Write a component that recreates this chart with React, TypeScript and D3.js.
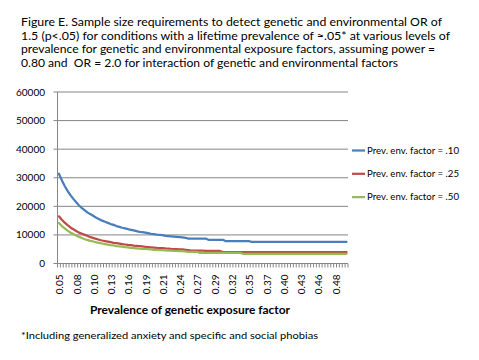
import React from "react";
import * as d3 from "d3";

const categories: number[] = [
  0.05, 0.0545, 0.059, 0.0635, 0.068, 0.0725, 0.077, 0.0815, 0.086, 0.0905,
  0.095, 0.0995, 0.104, 0.1085, 0.113, 0.1175, 0.122, 0.1265, 0.131, 0.1355,
  0.14, 0.1445, 0.149, 0.1535, 0.158, 0.1625, 0.167, 0.1715, 0.176, 0.1805,
  0.185, 0.1895, 0.194, 0.1985, 0.203, 0.2075, 0.212, 0.2165, 0.221, 0.2255,
  0.23, 0.2345, 0.239, 0.2435, 0.248, 0.2525, 0.257, 0.2615, 0.266, 0.2705,
  0.275, 0.2795, 0.284, 0.2885, 0.293, 0.2975, 0.302, 0.3065, 0.311, 0.3155,
  0.32, 0.3245, 0.329, 0.3335, 0.338, 0.3425, 0.347, 0.3515, 0.356, 0.3605,
  0.365, 0.3695, 0.374, 0.3785, 0.383, 0.3875, 0.392, 0.3965, 0.401, 0.4055,
  0.41, 0.4145, 0.419, 0.4235, 0.428, 0.4325, 0.437, 0.4415, 0.446, 0.4505,
  0.455, 0.4595, 0.464, 0.4685, 0.473, 0.4775, 0.482, 0.4865, 0.491, 0.4955,
  0.5,
];

const tickLabels: string[] = [
  "0.05", "0.08", "0.10", "0.13", "0.16", "0.19", "0.21", "0.24", "0.27",
  "0.29", "0.32", "0.35", "0.37", "0.40", "0.43", "0.46", "0.48",
];
const tickEvery = 6;

const yTicks: number[] = [0, 10000, 20000, 30000, 40000, 50000, 60000];

const env10: number[] = [
  31400, 29100, 27100, 25400, 23900, 22600, 21400, 20300, 19400, 18600,
  17800, 17200, 16600, 16000, 15500, 15000, 14600, 14200, 13800, 13500,
  13100, 12800, 12500, 12300, 12000, 11800, 11600, 11300, 11100, 11000,
  10800, 10600, 10400, 10300, 10100, 10000, 9900, 9700, 9600, 9500,
  9400, 9300, 9200, 9100, 9000, 8700, 8700, 8700, 8700, 8700,
  8700, 8700, 8300, 8300, 8300, 8300, 8300, 8300, 7800, 7800,
  7800, 7800, 7800, 7800, 7800, 7800, 7800, 7600, 7600, 7600,
  7600, 7600, 7600, 7600, 7600, 7600, 7600, 7600, 7600, 7600,
  7600, 7600, 7600, 7600, 7600, 7600, 7600, 7600, 7600, 7600,
  7600, 7600, 7600, 7600, 7600, 7600, 7600, 7600, 7600, 7600,
  7600,
];

const env25: number[] = [
  16500, 15300, 14300, 13400, 12600, 12000, 11400, 10800, 10400, 10000,
  9600, 9200, 8900, 8600, 8300, 8050, 7850, 7650, 7450, 7250,
  7100, 6950, 6800, 6650, 6500, 6400, 6250, 6150, 6050, 5950,
  5850, 5750, 5650, 5550, 5450, 5400, 5350, 5250, 5200, 5100,
  5050, 5000, 4950, 4900, 4800, 4700, 4500, 4500, 4500, 4500,
  4500, 4400, 4400, 4400, 4400, 4400, 4400, 4000, 4000, 4000,
  4000, 4000, 4000, 4000, 4000, 4000, 4000, 4000, 4000, 4000,
  4000, 4000, 4000, 4000, 4000, 4000, 4000, 4000, 4000, 4000,
  4000, 4000, 4000, 4000, 4000, 4000, 4000, 4000, 4000, 4000,
  4000, 4000, 4000, 4000, 4000, 4000, 4000, 4000, 4000, 4000,
  4000,
];

const env50: number[] = [
  14200, 13100, 12300, 11500, 10800, 10300, 9800, 9300, 8900, 8500,
  8200, 7900, 7700, 7400, 7200, 7000, 6800, 6600, 6400, 6300,
  6100, 6000, 5900, 5700, 5600, 5500, 5400, 5300, 5200, 5100,
  5100, 5000, 4900, 4800, 4800, 4700, 4700, 4600, 4500, 4500,
  4400, 4400, 4300, 4300, 4200, 4100, 4100, 4100, 4100, 3700,
  3700, 3700, 3700, 3700, 3700, 3700, 3700, 3700, 3700, 3700,
  3700, 3700, 3700, 3700, 3400, 3400, 3400, 3400, 3400, 3400,
  3400, 3400, 3400, 3400, 3400, 3400, 3400, 3400, 3400, 3400,
  3400, 3400, 3400, 3400, 3400, 3400, 3400, 3400, 3400, 3400,
  3400, 3400, 3400, 3400, 3400, 3400, 3400, 3400, 3400, 3400,
  3400,
];

const seriesNames: string[] = [
  "Prev. env. factor = .10",
  "Prev. env. factor = .25",
  "Prev. env. factor = .50",
];

const titleLines: string[] = [
  "Figure E. Sample size requirements to detect genetic and environmental OR of",
  "1.5 (p<.05) for conditions with a lifetime prevalence of \u2248.05* at various levels of",
  "prevalence for genetic and environmental exposure factors, assuming power =",
  "0.80 and  OR = 2.0 for interaction of genetic and environmental factors",
];
const xTitle = "Prevalence of genetic exposure factor";
const footnote = "*Including generalized anxiety and specific and social phobias";

const colors = ["#4a7ebb", "#be4b48", "#98b954"];
const FONT = "Lato, 'Open Sans', sans-serif";

export default function App() {
  const W = 479;
  const H = 360;
  const left = 57.5;
  const right = 348;
  const top = 92;
  const bottom = 263.5;

  const idx = categories.map((_, i) => String(i));
  const x = d3.scaleBand<string>().domain(idx).range([left, right]).padding(0);
  const y = d3.scaleLinear().domain([0, 60000]).range([bottom, top]);
  const cx = (i: number) => (x(String(i)) as number) + x.bandwidth() / 2;

  const series = [env10, env25, env50];
  const line = d3
    .line<number>()
    .x((_, i) => cx(i))
    .y((d) => y(d));

  const titleWidths = [421, 429, 414, 377];
  const titleBase = [26, 39.7, 53.4, 67.1];
  const legendY = [150.5, 173.8, 197.1];

  const boundaries = d3.range(categories.length + 1).map((i) => left + i * x.bandwidth());

  return (
    <svg
      width={W}
      height={H}
      style={{ position: "absolute", left: 0, top: 0, background: "#fff" }}
      fontFamily={FONT}
    >
      <rect x={0} y={0} width={W} height={H} fill="#fff" />
      {titleLines.map((t, i) => (
        <text
          key={i}
          x={21}
          y={titleBase[i]}
          fontSize={11.5}
          fill="#000"
          textLength={titleWidths[i]}
          lengthAdjust="spacingAndGlyphs"
          style={{ whiteSpace: "pre" }}
        >
          {t}
        </text>
      ))}

      {yTicks.map((v) => (
        <g key={v}>
          {v > 0 && (
            <line x1={left - 4} x2={right} y1={y(v)} y2={y(v)} stroke="#868686" strokeWidth={1} />
          )}
          {v === 0 && (
            <line x1={left - 4} x2={left} y1={y(v)} y2={y(v)} stroke="#868686" strokeWidth={1} />
          )}
          <text x={45} y={y(v)} dy="0.35em" textAnchor="end" fontSize={10} fill="#000">
            {v}
          </text>
        </g>
      ))}

      <line x1={left} x2={left} y1={top} y2={bottom} stroke="#868686" strokeWidth={1} />
      <line x1={left} x2={right} y1={bottom} y2={bottom} stroke="#868686" strokeWidth={1} />
      {boundaries.map((bx, i) => (
        <line key={i} x1={bx} x2={bx} y1={bottom} y2={bottom + 4} stroke="#868686" strokeWidth={1} />
      ))}

      {tickLabels.map((t, k) => {
        const i = k * tickEvery;
        const px = cx(i) + 1;
        const py = bottom + 11;
        return (
          <text
            key={t}
            transform={`translate(${px},${py}) rotate(-90)`}
            textAnchor="end"
            dy="0.35em"
            fontSize={10}
            fill="#000"
          >
            {t}
          </text>
        );
      })}

      <text x={190} y={314} textAnchor="middle" fontSize={10.5} fontWeight="bold" fill="#000" textLength={200} lengthAdjust="spacingAndGlyphs">
        {xTitle}
      </text>

      {series.map((s, k) => (
        <path
          key={k}
          d={line(s) || ""}
          fill="none"
          stroke={colors[k]}
          strokeWidth={2.25}
          strokeLinejoin="round"
          strokeLinecap="round"
        />
      ))}

      {seriesNames.map((n, k) => (
        <g key={n}>
          <line x1={352} x2={365} y1={legendY[k]} y2={legendY[k]} stroke={colors[k]} strokeWidth={2.25} />
          <text x={367} y={legendY[k]} dy="0.35em" fontSize={9} fill="#000" textLength={92} lengthAdjust="spacingAndGlyphs">
            {n}
          </text>
        </g>
      ))}

      <text x={21} y={339} fontSize={10} fill="#000" textLength={297} lengthAdjust="spacingAndGlyphs">
        {footnote}
      </text>
    </svg>
  );
}
